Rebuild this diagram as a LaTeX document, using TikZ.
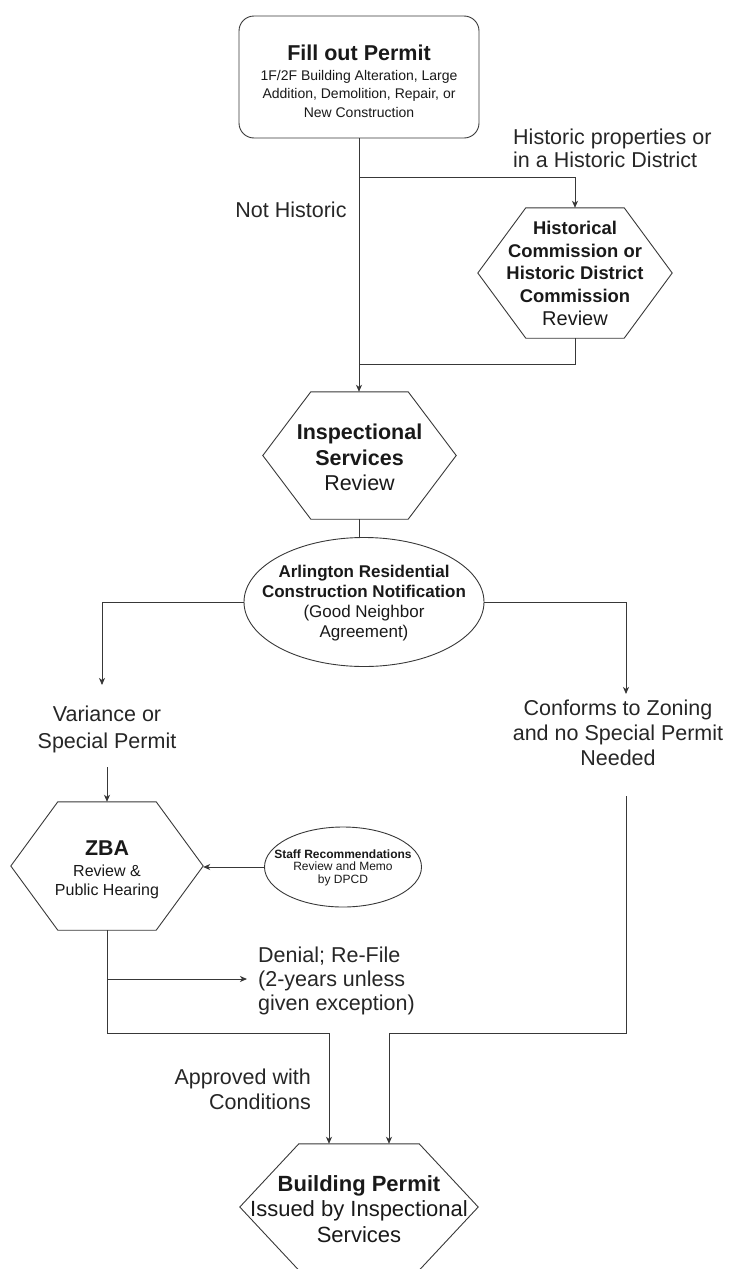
\documentclass[tikz,border=0pt]{standalone}
\usepackage{fontspec}
\setmainfont{Liberation Sans}
\usetikzlibrary{arrows.meta,shapes.geometric,calc}
\newcommand\fsz[2]{\fontsize{#1}{#2}\selectfont}
\newcommand\hexdraw[2]{\draw[ln, line join=miter] (#1.west) -- ([xshift=#2]#1.north west) -- ([xshift=-#2]#1.north east) -- (#1.east) -- ([xshift=-#2]#1.south east) -- ([xshift=#2]#1.south west) -- cycle;}
\tikzset{
  ln/.style={draw=black!78, line width=0.9pt},
  arr/.style={ln, -{Stealth[length=7pt,width=6pt,inset=2pt]}},
  hexbox/.style={draw=none, inner sep=0pt},
  ellbox/.style={ellipse, draw=black!78, line width=0.9pt, inner sep=0pt},
  txt/.style={align=center, inner sep=0pt, text=black!90},
  lbl/.style={align=center, inner sep=0pt, text=black!85},
}
\begin{document}
\begin{tikzpicture}[x=1pt,y=-1pt]
\useasboundingbox (0,0) rectangle (730,1269);
\clip (0,0) rectangle (730,1269);

% shapes
\node[draw=black!78, line width=0.9pt, rounded corners=15pt, minimum width=240pt, minimum height=122pt, inner sep=0pt] (permit) at (359,77) {};
\node[txt, font=\fsz{14}{18.5}] (permittext) at (359,81)
  {\fsz{21.5}{18.5}\bfseries Fill out Permit\\[1.8pt]1F/2F Building Alteration, Large\\Addition, Demolition, Repair, or\\New Construction};

\node[hexbox, minimum width=194pt, minimum height=130pt] (hist) at (575,273) {};
\hexdraw{hist}{48}
\node[txt, font=\fsz{18.4}{22.5}\bfseries] (histtext) at (575,273.5)
  {Historical\\Commission or\\Historic District\\Commission\\[1pt]\fsz{20}{22.5}\mdseries Review};

\node[hexbox, minimum width=193pt, minimum height=127pt] (insp) at (359.5,455.5) {};
\hexdraw{insp}{48}
\node[txt, font=\fsz{21.5}{25.5}\bfseries] (insptext) at (359.5,457.5)
  {Inspectional\\Services\\\mdseries Review};

\node[ellbox, minimum width=240pt, minimum height=129pt] (arr) at (364,602) {};
\node[txt, font=\fsz{17}{20}] (arrtext) at (364,603.5)
  {\textbf{Arlington Residential}\\\textbf{Construction Notification}\\(Good Neighbor\\Agreement)};

\node[hexbox, minimum width=192pt, minimum height=128pt] (zba) at (107,866) {};
\hexdraw{zba}{47}
\node[txt, font=\fsz{16}{19.5}] (zbatext) at (107,870)
  {\fsz{21.4}{19.5}\bfseries ZBA\\[1.5pt]Review \&\\Public Hearing};

\node[ellbox, minimum width=157pt, minimum height=80pt] (staff) at (343,867) {};
\node[txt, font=\fsz{12}{12.5}] (stafftext) at (343,867.5)
  {\textbf{Staff Recommendations}\\Review and Memo\\by DPCD};

\node[hexbox, minimum width=238pt, minimum height=126pt] (bp) at (359,1207) {};
\hexdraw{bp}{59}
\node[txt, font=\fsz{22}{25.5}] (bptext) at (359,1209)
  {\textbf{Building Permit}\\Issued by Inspectional\\Services};

% labels
\node[lbl, align=left, anchor=west, font=\fsz{21.5}{23}] (lhist) at (513,148) {Historic properties or\\in a Historic District};
\node[lbl, font=\fsz{21.5}{25}] (lnot) at (291,210) {Not Historic};
\node[lbl, font=\fsz{21.5}{27}] (lvar) at (107,729.5) {Variance or\\Special Permit};
\node[lbl, font=\fsz{21.5}{25}] (lconf) at (618,733) {Conforms to Zoning\\and no Special Permit\\Needed};
\node[lbl, align=left, anchor=west, font=\fsz{21.5}{24}] (lden) at (258,980.5) {Denial; Re-File\\(2-years unless\\given exception)};
\node[lbl, align=right, anchor=east, font=\fsz{21.5}{25}] (lapp) at (311,1089.5) {Approved with\\Conditions};

% coordinates
\coordinate (b1) at (359,177);
\coordinate (j1) at (359,364);
\coordinate (varin) at (102,685);
\coordinate (confin) at (626,694);
\coordinate (varout) at (107,767);
\coordinate (confout) at (626,796);
\coordinate (zj) at (107,979);
\coordinate (dn) at (247,979);

% connectors
\draw[arr] (permit.south) -- (permit.south |- insp.north);
\draw[arr] (b1) -| (hist.north);
\draw[ln] (hist.south) |- (j1);
\draw[ln] (insp.south) -- (insp.south |- arr.north);
\draw[arr] (arr.west) -| (varin);
\draw[arr] (arr.east) -| (confin);
\draw[arr] (varout) -- (zba.north);
\draw[arr] (staff.west) -- (staff.west -| zba.east);
\draw[arr] (zba.south) -- ++(0,103) -| ([xshift=-30pt]bp.north);
\draw[arr] (zj) -- (dn);
\draw[arr] (confout) -- ++(0,237) -| ([xshift=30pt]bp.north);
\end{tikzpicture}
\end{document}
